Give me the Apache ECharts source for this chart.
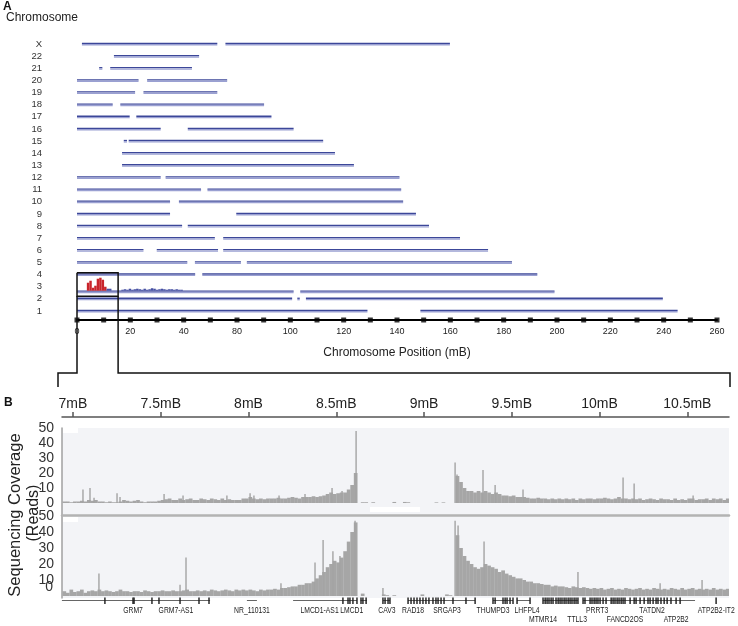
<!DOCTYPE html>
<html><head><meta charset="utf-8">
<script src="https://cdn.jsdelivr.net/npm/echarts@6/dist/echarts.min.js"></script>
<style>html,body{margin:0;padding:0;background:#fff}#c{width:738px;height:626px}</style>
</head><body><div id="c"></div>
<script>
// ---------- Panel A data ----------
const chrNames = ['1','2','3','4','5','6','7','8','9','10','11','12','13','14','15','16','17','18','19','20','21','22','X'];
const chrSegments = [
  [[0,118],[139.5,244]],
  [[0,87.4],[89.5,90.5],[93,238]],
  [[0,88],[90.7,194]],
  [[0,48],[50.9,187]],
  [[0,44.8],[47.9,66.6],[69,176.7]],
  [[0,27],[32.4,57.3],[59.4,167]],
  [[0,56],[59.4,155.6]],
  [[0,42.7],[45,143]],
  [[0,37.8],[64.7,137.7]],
  [[0,37.8],[41.4,132.5]],
  [[0,50.4],[53,131.7]],
  [[0,34],[36,131]],
  [[18.3,112.5]],
  [[18.3,104.8]],
  [[19,20.3],[21,100]],
  [[0,34],[45,88]],
  [[0,21.4],[24.1,79]],
  [[0,14.5],[17.6,76]],
  [[0,23.6],[27,57]],
  [[0,25],[28.5,61]],
  [[9,10.3],[13.5,46.7]],
  [[15,49.6]],
  [[2,57],[60.3,151.5]]
];
// chromosome 3 read coverage (1 mB bins from 0 mB)
const chr3Coverage = [0,0,0,0,8,10,3,5,12,13,11,4,2,2,0,0,0,0,1,1.5,1,2,1,1.5,2,1.5,1,2,1,1.5,2.5,2,1,1.5,2,1.5,1,1.5,1.5,1,1.5,1,1,0];
const tickLabelsA = ['0','20','40','80','100','120','140','160','180','200','220','240','260'];
const zoomBoxEndMb = 16.7;

// ---------- Panel B data ----------
const tickValuesB = [7,7.5,8,8.5,9,9.5,10,10.5];
const tickLabelsB = ['7mB','7.5mB','8mB','8.5mB','9mB','9.5mB','10mB','10.5mB'];
const readTicks = [0,10,20,30,40,50];
const covBinStart = 6.94, covBinWidth = 0.02;
const coverage1 = [
 1,1,0.5,1,1,1.5,1,2,1.5,2, 1,1,0.5,1,0.5,0.5,1,2,1.5,1,
 1.5,2,1,0.5,1,1,1,1.5,2,2.5, 3,2,2,3,2,2.5,3,2,2,3,
 2.5,2,3,2.5,2,3,2,2.5,2,2, 2,3,3,4,3,2.5,3,2.5,3,3,
 3,3.5,3,3,3.5,4,3.5,3,4,4, 4,4.5,4,4.5,5,6,7,6,6.5,7,
 7,9,12,20,
 0,0.5,0.5,0,0.5,0,0,0,0,0,0.7,0,0,0.7,0.5,0,0,0,0,0,0,0,0.4,0,0.4,0,0,0,
 18,14,10,8,8,7,8,7,8,7, 6,7,6,5,5,4.5,5,4,4,4,
 3.5,3,3,3.5,3,3,2.5,3,2.5,3, 2.5,3,2.5,3,2,3,2.5,3,3,2.5,
 3,3,3.5,3,2.5,3,4,3,3,2.5, 3,2.5,3,2,2.5,3,2.5,2,3,2.5,
 2.5,2,3,2,2.5,2,3,3,2,2.5, 2.5,3,2,3,2.5,3,2,3
];
const spikes1 = [[7.057,9],[7.097,10],[7.12,3.5],[7.251,6.5],[7.268,4],[7.519,6],[7.627,5],[7.877,5],[8.009,6.5],[8.031,5],[8.174,5],[8.322,6],[8.476,10],[8.533,8],[8.613,48],[9.177,27],[9.188,19],[9.336,22],[9.405,12],[9.564,9],[10.134,17],[10.197,13],[10.533,5]];
const coverage2 = [
 3,2,4,2.5,3,4,2,3,3.5,3, 4,3,3.5,3,2.5,3,4,3,3,2.5,
 3,3,2.5,3.5,3,2.5,3,3,3.5,3, 3,3.5,3,3,3.5,4,3,3,3.5,3,
 3.5,3,4,3.5,3,3.5,4,3.5,3,4, 3.5,4,3.5,4,3.5,3,4,3.5,4,4,
 4.5,4,5,5,5.5,6,6,7,7,8, 8,9,11,13,15,18,20,22,21,24,
 28,34,40,46,
 0,1.5,0,0,0,0,0,1,0.5,0,0.5,0,0,0,0,0,0,0,1,0,0,0,0,0,0,1,0.5,0,
 38,30,25,22,20,18,17,18,20,19, 18,17,15,16,14,13,12,11,11,10,
 9,9,8,8,7.5,7,7,6,6.5,6, 6,5.5,5,6,5.5,5,5.5,5,4.5,5,
 4.5,5,4,4.5,5,4,4.5,4,5,4.5, 4,4.5,5,4,4.5,4,5,4.5,4,4.5,
 4,5,4.5,4,5,4,4.5,5,4,4.5, 4,4.5,4,5,4,4.5,4,4.5
];
const spikes2 = [[7.148,14],[7.61,7],[7.644,24],[8.185,8],[8.379,21],[8.425,35],[8.481,28],[8.521,25],[8.607,47],[8.766,5],[9.177,47],[9.194,44],[9.342,34],[9.877,15],[10.345,8],[10.584,10]];

// ---------- Gene track ----------
const geneLines = [[6.937,7.781],[7.991,8.048],[8.254,8.618],[8.638,8.675],[8.766,8.806],[8.909,9.291],[9.393,9.507],[9.53,9.604],[9.678,9.877],[9.906,10.544]];
const geneExons = [7.182,7.342,7.348,7.45,7.49,7.61,7.718,7.775,
 8.538,8.567,8.578,8.595,8.618,8.641,8.652,8.67,
 8.766,8.778,8.795,8.806,
 8.909,8.926,8.943,8.96,8.977,8.994,9.011,9.028,9.051,9.068,9.08,9.097,9.114,9.165,9.239,9.291,
 9.393,9.405,9.45,9.462,9.473,9.49,9.507,9.53,9.604,
 9.678,9.69,9.701,9.712,9.724,9.735,9.752,9.764,9.775,9.786,9.798,9.809,9.821,9.832,9.843,9.855,9.866,9.877,
 9.906,9.917,9.946,9.957,9.969,9.98,9.991,10.003,10.02,10.037,10.066,10.077,10.088,10.1,10.111,10.123,10.134,10.145,
 10.174,10.197,10.208,10.231,10.254,10.276,10.288,10.305,10.322,10.333,10.35,10.368,10.385,10.407,10.436,10.459,
 10.664];
const geneLabels = [['GRM7',7.342,0],['GRM7-AS1',7.587,0],['NR_110131',8.02,0],['LMCD1-AS1',8.405,0],['LMCD1',8.588,0],['CAV3',8.789,0],['RAD18',8.937,0],['SRGAP3',9.131,0],['THUMPD3',9.393,0],['LHFPL4',9.587,0],['MTMR14',9.678,1],['TTLL3',9.872,1],['PRRT3',9.986,0],['FANCD2OS',10.145,1],['TATDN2',10.299,0],['ATP2B2',10.436,1],['ATP2B2-IT2',10.665,0]];

// ---------- layout ----------
const FONT = "'Liberation Sans', Arial, sans-serif";
const NARROW = "'Liberation Sans Narrow', 'Arial Narrow', 'Liberation Sans', sans-serif";
const yMinA = -0.7416, yMaxA = 22.66;
const xMinB = 6.9375, xMaxB = 10.7375;
const labelPosA = tickLabelsA.map((_, k) => k * 260 / 12);
const dotPosA = Array.from({length: 25}, (_, k) => k * 260 / 24);

const segData = [];
chrSegments.forEach((segs, i) => segs.forEach(s => segData.push([s[0], s[1], i])));

const chart = echarts.init(document.getElementById('c'), null, {renderer: 'canvas'});

function binItem(binW, color) {
  return function (params, api) {
    const x0 = api.value(0), v = api.value(1);
    if (!(v > 0)) return null;
    const a = api.coord([x0, v]), b = api.coord([x0 + binW, 0]);
    return {type: 'rect', shape: {x: a[0], y: a[1], width: b[0] - a[0] + 0.2, height: b[1] - a[1]}, style: {fill: color}};
  };
}
function spikeItem(params, api) {
  const a = api.coord([api.value(0), api.value(1)]), b = api.coord([api.value(0), 0]);
  return {type: 'rect', shape: {x: a[0] - 0.7, y: a[1], width: 1.4, height: b[1] - a[1]}, style: {fill: '#a3a3a3'}};
}
const barColor = '#a6a6a6';

const option = {
  animation: false,
  backgroundColor: '#fff',
  textStyle: {fontFamily: FONT},
  grid: [
    {left: 77, width: 640, top: 36, height: 284},
    {left: 62, width: 667, top: 428, height: 87, show: true, backgroundColor: '#f3f4f7', borderWidth: 0},
    {left: 62, width: 667, top: 516, height: 82, show: true, backgroundColor: '#f3f4f7', borderWidth: 0},
    {left: 62, width: 667, top: 596, height: 30}
  ],
  xAxis: [
    {type: 'value', gridIndex: 0, min: 0, max: 260,
     axisLine: {show: true, onZero: false, lineStyle: {color: '#000', width: 2}}, axisTick: {show: false}, splitLine: {show: false},
     axisLabel: {customValues: labelPosA, formatter: v => tickLabelsA[Math.round(v / (260 / 12))], fontSize: 9, color: '#222', margin: 7, fontFamily: FONT},
     name: 'Chromosome Position (mB)', nameLocation: 'middle', nameGap: 27, nameTextStyle: {fontSize: 12, color: '#222', fontFamily: FONT}},
    {type: 'value', gridIndex: 1, position: 'top', offset: 11, min: xMinB, max: xMaxB,
     axisLine: {show: true, onZero: false, lineStyle: {color: '#555', width: 1.5}},
     axisTick: {show: true, customValues: tickValuesB, length: 5, lineStyle: {color: '#555', width: 1.5}},
     axisLabel: {customValues: tickValuesB, formatter: v => tickLabelsB[tickValuesB.indexOf(+v.toFixed(2))], fontSize: 14, color: '#222', margin: 6, fontFamily: FONT},
     splitLine: {show: false}},
    {type: 'value', gridIndex: 1, position: 'bottom', min: xMinB, max: xMaxB,
     axisLine: {show: true, onZero: false, lineStyle: {color: '#b3b3b3', width: 2.5}}, axisTick: {show: false}, axisLabel: {show: false}, splitLine: {show: false}},
    {type: 'value', gridIndex: 2, show: false, min: xMinB, max: xMaxB},
    {type: 'value', gridIndex: 3, show: false, min: xMinB, max: xMaxB}
  ],
  yAxis: [
    {type: 'value', gridIndex: 0, min: yMinA, max: yMaxA,
     axisLine: {show: false}, axisTick: {show: false}, splitLine: {show: false},
     axisLabel: {customValues: chrNames.map((_, i) => i), formatter: v => chrNames[Math.round(v)], fontSize: 9.5, color: '#333', margin: 35, fontFamily: FONT}},
    {type: 'value', gridIndex: 1, min: -8, max: 50,
     axisLine: {show: true, onZero: false, lineStyle: {color: '#a0a0a0', width: 1.5}}, axisTick: {show: false}, splitLine: {show: false},
     axisLabel: {customValues: readTicks, fontSize: 14, color: '#333', margin: 8, fontFamily: FONT}},
    {type: 'value', gridIndex: 2, min: -1.25, max: 50,
     axisLine: {show: true, onZero: false, lineStyle: {color: '#a0a0a0', width: 1.5}}, axisTick: {show: false}, splitLine: {show: false},
     axisLabel: {customValues: readTicks.filter(v => v > 0), fontSize: 14, color: '#333', margin: 8, fontFamily: FONT}},
    {type: 'value', gridIndex: 3, show: false, min: 0, max: 30, inverse: true}
  ],
  series: [
    {type: 'custom', xAxisIndex: 0, yAxisIndex: 0, data: segData, encode: {x: [0, 1], y: 2},
     renderItem: function (params, api) {
       const row = api.value(2);
       const s = api.coord([api.value(0), row]), e = api.coord([api.value(1), row]);
       const y = s[1] + (row === 2 ? 5 : 0);
       return {type: 'group', children: [
         {type: 'line', shape: {x1: s[0], y1: y - 0.6, x2: e[0], y2: y - 0.6}, style: {stroke: '#3c4799', lineWidth: 1.3}},
         {type: 'line', shape: {x1: s[0], y1: y + 0.8, x2: e[0], y2: y + 0.8}, style: {stroke: '#9aa0d2', lineWidth: 1.4}}
       ]};
     }},
    {type: 'custom', xAxisIndex: 0, yAxisIndex: 0, data: chr3Coverage.map((v, i) => [i, v]),
     renderItem: function (params, api) {
       const x = api.value(0), h = api.value(1);
       if (!(h > 0)) return null;
       const a = api.coord([x, 2]), b = api.coord([x + 1, 2]);
       const base = a[1] + 4;
       return {type: 'rect', shape: {x: a[0], y: base - h, width: b[0] - a[0], height: h}, style: {fill: h > 2.5 ? '#c9242b' : '#4650a3'}};
     }},
    {type: 'scatter', xAxisIndex: 0, yAxisIndex: 0, clip: false, symbol: 'rect', symbolSize: 5,
     itemStyle: {color: '#000'}, data: dotPosA.map(p => [p, yMinA]), z: 5},
    {type: 'custom', xAxisIndex: 1, yAxisIndex: 1, clip: true, data: coverage1.map((v, i) => [covBinStart + i * covBinWidth, v]), renderItem: binItem(covBinWidth, barColor)},
    {type: 'custom', xAxisIndex: 1, yAxisIndex: 1, clip: true, data: spikes1, renderItem: spikeItem},
    {type: 'custom', xAxisIndex: 3, yAxisIndex: 2, clip: true, data: coverage2.map((v, i) => [covBinStart + i * covBinWidth, v]), renderItem: binItem(covBinWidth, barColor)},
    {type: 'custom', xAxisIndex: 3, yAxisIndex: 2, clip: true, data: spikes2, renderItem: spikeItem},
    {type: 'custom', xAxisIndex: 4, yAxisIndex: 3, data: geneLines,
     renderItem: function (params, api) {
       const a = api.coord([api.value(0), 4.5]), b = api.coord([api.value(1), 4.5]);
       return {type: 'line', shape: {x1: a[0], y1: a[1], x2: b[0], y2: b[1]}, style: {stroke: '#666', lineWidth: 1}};
     }},
    {type: 'custom', xAxisIndex: 4, yAxisIndex: 3, data: geneExons.map(x => [x]),
     renderItem: function (params, api) {
       const a = api.coord([api.value(0), 1.5]), b = api.coord([api.value(0), 8]);
       return {type: 'rect', shape: {x: a[0] - 0.7, y: a[1], width: 1.4, height: b[1] - a[1]}, style: {fill: '#1a1a1a'}};
     }},
    {type: 'custom', xAxisIndex: 4, yAxisIndex: 3, data: geneLabels.map(g => [g[1], g[2], g[0]]),
     renderItem: function (params, api) {
       const g = geneLabels[params.dataIndex];
       const p = api.coord([g[1], g[2] === 0 ? 15 : 24]);
       return {type: 'text', x: p[0], y: p[1], scaleX: 0.8, style: {text: g[0], fontSize: 8.5, fontFamily: NARROW, fill: '#222', align: 'center', verticalAlign: 'middle'}};
     }}
  ]
};
chart.setOption(option);

// annotation graphics (titles, zoom box, bracket and the displaced "0" tick of the second track)
const xa0 = chart.convertToPixel({xAxisIndex: 0}, 0);
const xa1 = chart.convertToPixel({xAxisIndex: 0}, zoomBoxEndMb);
const row3 = chart.convertToPixel({yAxisIndex: 0}, 2);
const zero2 = chart.convertToPixel({yAxisIndex: 2}, 0);
const boxTop = row3 - 14, boxBot = row3 + 9.5;
const brY = 373, brBot = 387, brL = 58, brR = 730;
chart.setOption({
  graphic: [
    {type: 'text', left: 3, top: 1, style: {text: 'A', fontSize: 12, fontWeight: 'bold', fontFamily: FONT, fill: '#111'}},
    {type: 'text', left: 6, top: 12, style: {text: 'Chromosome', fontSize: 12, fontFamily: FONT, fill: '#222'}},
    {type: 'text', left: 4, top: 397, style: {text: 'B', fontSize: 12, fontWeight: 'bold', fontFamily: FONT, fill: '#111'}},
    {type: 'text', x: 53, y: zero2 - 9, style: {text: '0', fontSize: 14, fontFamily: FONT, fill: '#333', align: 'right', verticalAlign: 'middle'}},
    {type: 'text', x: 15, y: 515, rotation: Math.PI / 2, style: {text: 'Sequencing Coverage', fontSize: 16.5, fontFamily: FONT, fill: '#222', align: 'center', verticalAlign: 'middle'}},
    {type: 'text', x: 34, y: 513, rotation: Math.PI / 2, style: {text: '(Reads)', fontSize: 16, fontFamily: FONT, fill: '#222', align: 'center', verticalAlign: 'middle'}},
    {type: 'rect', z: 1, shape: {x: 63, y: 428, width: 15, height: 5}, style: {fill: '#fff'}},
    {type: 'rect', z: 1, shape: {x: 370, y: 507, width: 50, height: 5}, style: {fill: '#fff'}},
    {type: 'rect', z: 1, shape: {x: 63, y: 517, width: 15, height: 5}, style: {fill: '#fff'}},
    {type: 'polyline', z: 100, shape: {points: [[xa0, boxTop], [xa1, boxTop], [xa1, boxBot], [xa0, boxBot], [xa0, boxTop]]}, style: {stroke: '#111', lineWidth: 1.5, fill: null}},
    {type: 'polyline', z: 100, shape: {points: [[xa0, boxBot], [xa0, brY], [brL, brY], [brL, brBot]]}, style: {stroke: '#111', lineWidth: 1.5, fill: null}},
    {type: 'polyline', z: 100, shape: {points: [[xa1, boxBot], [xa1, brY], [brR, brY], [brR, brBot]]}, style: {stroke: '#111', lineWidth: 1.5, fill: null}}
  ]
});
</script></body></html>
